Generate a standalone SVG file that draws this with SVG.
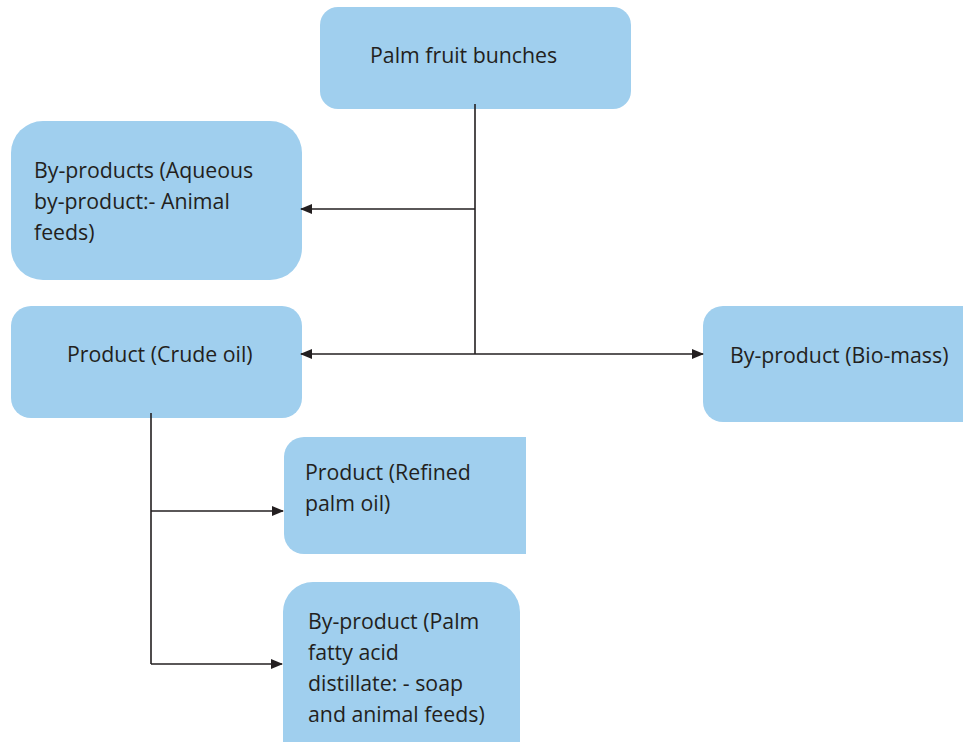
<svg xmlns="http://www.w3.org/2000/svg" width="963" height="742" viewBox="0 0 963 742">
  <defs>
    <marker id="arrow" viewBox="0 0 12 10" refX="11" refY="5" markerWidth="12" markerHeight="10" markerUnits="userSpaceOnUse" orient="auto-start-reverse">
      <path d="M0,0 L12,5 L0,10 Z" fill="#231f20"/>
    </marker>
    <clipPath id="refined-clip">
      <rect x="280" y="430" width="246" height="130"/>
    </clipPath>
  </defs>
  <style>
    .box { fill: #a0cfee; }
    .label { font-family: "Open Sans", "Noto Sans", sans-serif; font-size: 21.3px; fill: #231f20; }
    .link { fill: none; stroke: #231f20; stroke-width: 1.6; }
  </style>
  <rect width="963" height="742" fill="#ffffff"/>

  <g id="palm-fruit-bunches">
    <rect class="box" x="320" y="7" width="311" height="102" rx="18"/>
    <text class="label" x="370" y="63">Palm fruit bunches</text>
  </g>

  <g id="aqueous-by-product">
    <rect class="box" x="11" y="121" width="291" height="159" rx="32"/>
    <text class="label" x="34" y="178">By-products (Aqueous</text>
    <text class="label" x="34" y="209">by-product:- Animal</text>
    <text class="label" x="34" y="240">feeds)</text>
  </g>

  <g id="crude-oil">
    <rect class="box" x="11" y="306" width="291" height="112" rx="20"/>
    <text class="label" x="67" y="362">Product (Crude oil)</text>
  </g>

  <g id="bio-mass">
    <rect class="box" x="703" y="306" width="280" height="116" rx="20"/>
    <text class="label" x="730" y="363">By-product (Bio-mass)</text>
  </g>

  <g id="refined-palm-oil">
    <rect class="box" x="284" y="437" width="262" height="117" rx="20" clip-path="url(#refined-clip)"/>
    <text class="label" x="305" y="480">Product (Refined</text>
    <text class="label" x="305" y="511">palm oil)</text>
  </g>

  <g id="palm-fatty-acid-distillate">
    <rect class="box" x="283" y="582" width="237" height="190" rx="30"/>
    <text class="label" x="308" y="629">By-product (Palm</text>
    <text class="label" x="308" y="660">fatty acid</text>
    <text class="label" x="308" y="691">distillate: - soap</text>
    <text class="label" x="308" y="722">and animal feeds)</text>
  </g>

  <g id="connectors">
    <path class="link" d="M475,104 V354"/>
    <path class="link" d="M475,209 H301" marker-end="url(#arrow)"/>
    <path class="link" d="M301,354 H703" marker-start="url(#arrow)" marker-end="url(#arrow)"/>
    <path class="link" d="M151,413 V664"/>
    <path class="link" d="M151,511 H283" marker-end="url(#arrow)"/>
    <path class="link" d="M151,664 H282" marker-end="url(#arrow)"/>
  </g>
</svg>
